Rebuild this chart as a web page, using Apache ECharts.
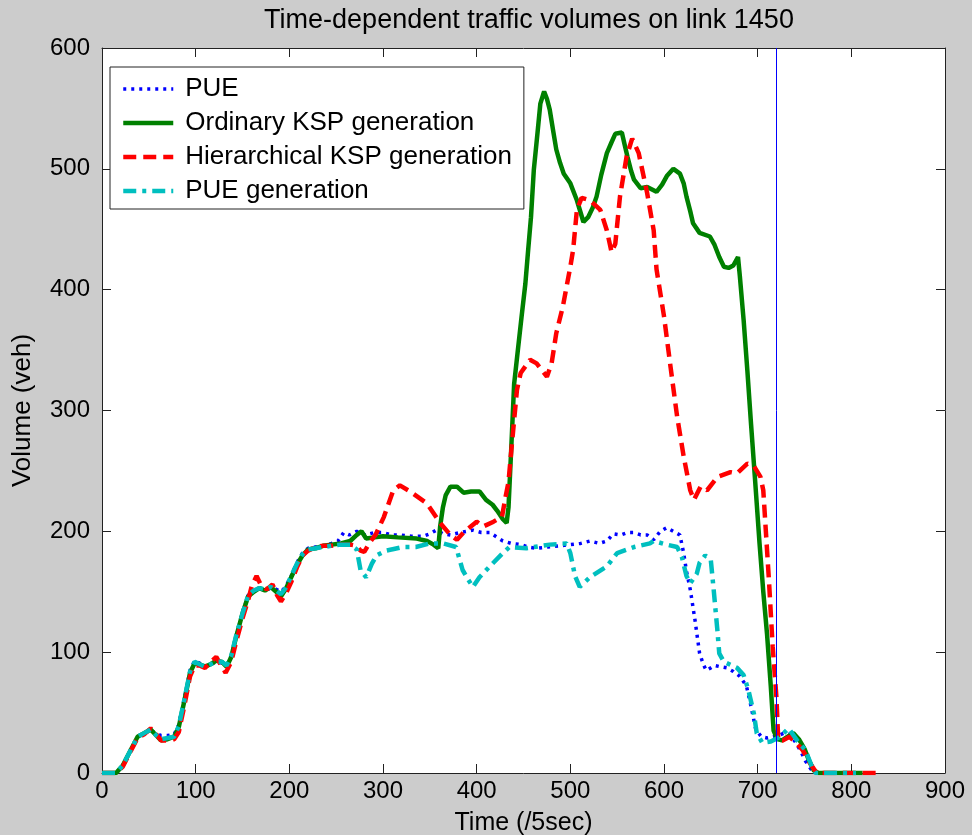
<!DOCTYPE html>
<html>
<head>
<meta charset="utf-8">
<script src="https://cdn.jsdelivr.net/npm/echarts@6/dist/echarts.min.js"></script>
<style>
html,body{margin:0;padding:0;background:#cccccc;}
#chart{width:972px;height:835px;}
</style>
</head>
<body>
<div id="chart"></div>
<script>
const titleText = 'Time-dependent traffic volumes on link 1450';
const xName = 'Time (/5sec)';
const yName = 'Volume (veh)';
const seriesNames = ['PUE', 'Ordinary KSP generation', 'Hierarchical KSP generation', 'PUE generation'];
const xTicks = [0, 100, 200, 300, 400, 500, 600, 700, 800, 900];
const yTicks = [0, 100, 200, 300, 400, 500, 600];
const markerX = 720;

const pue = [[0,0],[15,0],[22,6],[30,18],[38,30],[45,33],[52,35],[58,33],[63,31],[70,31],[77,32],[82,40],[88,62],[94,85],[99,93],[104,91],[110,88],[116,90],[122,92],[128,91],[133,89],[138,97],[143,113],[150,133],[156,147],[162,151],[168,153],[174,151],[180,153],[186,152],[191,150],[196,154],[202,163],[208,174],[214,182],[220,186],[228,187],[236,188],[245,190],[252,192],[258,199],[264,197],[272,200],[281,197],[291,199],[300,199],[310,197],[318,197],[330,196],[343,196],[350,198],[357,201],[364,198],[372,197],[382,199],[396,201],[405,199],[414,199],[422,195],[428,192],[437,190],[447,189],[455,187],[464,186],[476,187],[488,188],[500,189],[511,190],[521,192],[531,190],[539,192],[546,198],[554,197],[561,199],[568,199],[575,197],[582,197],[589,193],[596,200],[603,203],[610,200],[617,197],[621,182],[624,167],[628,152],[633,127],[638,99],[642,90],[645,85],[650,87],[654,89],[660,88],[667,87],[674,84],[681,80],[688,72],[693,55],[698,36],[704,30],[710,29],[716,30],[722,31],[728,33],[734,32],[740,26],[746,18],[751,10],[757,3],[762,0],[805,0]];

const ordinaryKsp = [[0,0],[15,0],[22,6],[30,18],[38,30],[45,33],[52,36],[58,31],[63,27],[70,28],[77,30],[82,38],[88,60],[94,83],[99,91],[104,90],[110,88],[116,90],[122,93],[128,92],[133,88],[138,96],[143,112],[150,132],[156,146],[162,150],[168,153],[174,151],[180,154],[186,150],[191,146],[196,152],[202,162],[208,172],[214,180],[220,185],[228,186],[236,188],[245,189],[255,190],[265,192],[272,197],[277,200],[282,194],[291,195],[300,196],[316,195],[336,194],[347,192],[354,189],[359,186],[361,204],[364,220],[367,230],[372,237],[379,237],[386,232],[394,233],[403,233],[410,226],[417,222],[422,217],[428,210],[432,207],[434,220],[437,270],[440,322],[444,350],[448,378],[452,405],[455,433],[458,460],[461,499],[465,530],[468,554],[472,564],[475,558],[478,549],[482,530],[485,516],[489,505],[493,496],[500,488],[507,474],[514,456],[519,460],[524,468],[528,477],[533,495],[539,513],[544,522],[548,529],[555,530],[558,520],[561,510],[565,498],[568,491],[575,484],[582,485],[592,481],[598,487],[603,494],[610,500],[617,496],[621,488],[624,477],[628,465],[631,455],[638,447],[649,444],[654,437],[659,427],[664,419],[669,418],[674,420],[679,427],[681,411],[685,375],[689,333],[693,288],[697,245],[702,190],[706,150],[710,115],[714,72],[717,35],[721,28],[726,27],[732,30],[738,33],[744,28],[750,20],[755,10],[760,2],[765,0],[812,0]];

const hierKsp = [[0,0],[15,0],[22,5],[30,17],[38,29],[45,32],[52,37],[58,32],[63,27],[70,27],[77,28],[82,34],[88,56],[94,80],[99,89],[104,89],[110,87],[116,92],[122,96],[128,88],[132,83],[138,92],[143,108],[150,128],[156,143],[160,155],[165,163],[170,155],[176,152],[182,156],[187,147],[191,142],[196,148],[202,158],[208,170],[214,180],[220,184],[228,187],[236,188],[245,188],[255,189],[265,189],[272,188],[276,184],[280,183],[286,191],[292,197],[301,212],[311,234],[318,238],[329,233],[347,223],[361,207],[372,197],[379,193],[386,199],[400,208],[407,204],[418,208],[427,212],[431,229],[434,241],[437,267],[443,317],[447,331],[457,342],[464,339],[475,328],[480,339],[485,364],[492,386],[500,419],[503,433],[507,466],[512,476],[521,474],[532,466],[539,449],[544,431],[548,438],[553,477],[560,510],[566,525],[573,513],[582,480],[589,449],[592,417],[600,378],[607,336],[614,295],[621,262],[628,234],[632,226],[639,237],[646,234],[657,245],[671,249],[678,248],[689,256],[696,254],[703,245],[706,234],[712,160],[716,105],[720,63],[722,27],[727,27],[734,30],[741,25],[748,19],[756,8],[763,0],[826,0]];

const pueGen = [[0,0],[15,0],[22,6],[30,18],[38,30],[45,33],[52,36],[58,31],[63,28],[70,29],[77,30],[82,39],[88,61],[94,84],[99,92],[104,90],[110,88],[116,90],[122,92],[128,92],[133,89],[138,97],[143,113],[150,132],[156,147],[162,151],[168,153],[174,152],[180,154],[186,151],[191,148],[196,153],[202,163],[208,173],[214,181],[220,185],[228,186],[236,187],[245,188],[255,189],[265,189],[272,185],[276,168],[282,162],[288,173],[293,180],[303,184],[321,187],[335,187],[350,190],[364,190],[378,187],[385,168],[391,160],[396,154],[403,162],[414,171],[428,182],[435,187],[453,186],[478,189],[496,190],[500,182],[505,163],[510,154],[521,162],[539,171],[550,182],[568,187],[585,190],[589,192],[603,189],[614,187],[619,179],[624,163],[628,157],[635,165],[638,174],[644,180],[650,176],[653,152],[657,118],[659,99],[664,92],[678,87],[685,81],[690,69],[696,49],[699,33],[705,25],[714,26],[724,30],[733,37],[742,27],[751,19],[758,5],[762,0],[805,0]];

const FONT = 'Liberation Sans, Arial, sans-serif';
const chart = echarts.init(document.getElementById('chart'));

function axisCommon(extra) {
  return Object.assign({
    type: 'value',
    axisLine: { show: true, onZero: false, lineStyle: { color: '#222', width: 1 } },
    axisTick: { show: true, inside: true, length: 9, lineStyle: { color: '#222', width: 1 } },
    splitLine: { show: false }
  }, extra);
}

chart.setOption({
  backgroundColor: '#cccccc',
  animation: false,
  title: {
    text: titleText,
    left: 524, top: 2, textAlign: 'center',
    textStyle: { fontFamily: FONT, fontSize: 27, fontWeight: 'normal', color: '#000' }
  },
  grid: {
    left: 102, right: 27, top: 48, bottom: 62, show: true, backgroundColor: '#ffffff', borderWidth: 0,
    containLabel: false, outerBoundsMode: 'none'
  },
  legend: {
    orient: 'vertical', left: 110, top: 67,
    data: seriesNames,
    backgroundColor: '#ffffff', borderColor: '#222', borderWidth: 1,
    padding: [9, 12, 5, 11], itemGap: 8,
    itemWidth: 50, itemHeight: 26,
    itemStyle: { opacity: 0 },
    lineStyle: { width: 'inherit' },
    textStyle: { fontFamily: FONT, fontSize: 26, color: '#000', padding: [0, 0, 0, 7] }
  },
  xAxis: [
    axisCommon({
      min: xTicks[0], max: xTicks[xTicks.length - 1], interval: 100, position: 'bottom',
      name: xName, nameLocation: 'middle', nameGap: 38,
      nameTextStyle: { fontFamily: FONT, fontSize: 25, color: '#000' },
      axisLabel: { fontFamily: FONT, fontSize: 24, color: '#000', margin: 6 }
    }),
    axisCommon({
      min: xTicks[0], max: xTicks[xTicks.length - 1], interval: 100, position: 'top',
      axisLabel: { show: false }
    })
  ],
  yAxis: [
    axisCommon({
      min: yTicks[0], max: yTicks[yTicks.length - 1], interval: 100, position: 'left',
      name: yName, nameLocation: 'middle', nameGap: 66, nameRotate: 90,
      nameTextStyle: { fontFamily: FONT, fontSize: 26, color: '#000' },
      axisLabel: { fontFamily: FONT, fontSize: 24, color: '#000', margin: 12 }
    }),
    axisCommon({
      min: yTicks[0], max: yTicks[yTicks.length - 1], interval: 100, position: 'right',
      axisLabel: { show: false }
    })
  ],
  series: [
    {
      name: seriesNames[0], type: 'line', data: pue, symbol: 'none', xAxisIndex: 0, yAxisIndex: 0,
      lineStyle: { color: '#0000ff', width: 3.5, type: [3, 5] }, itemStyle: { color: '#0000ff' },
      markLine: {
        silent: true, symbol: 'none', label: { show: false },
        lineStyle: { color: '#0000ff', width: 1, type: 'solid' },
        data: [{ xAxis: markerX }]
      }
    },
    {
      name: seriesNames[1], type: 'line', data: ordinaryKsp, symbol: 'none',
      lineStyle: { color: '#008000', width: 4.5, type: 'solid' }, itemStyle: { color: '#008000' }
    },
    {
      name: seriesNames[2], type: 'line', data: hierKsp, symbol: 'none',
      lineStyle: { color: '#ff0000', width: 4.5, type: [13, 7] }, itemStyle: { color: '#ff0000' }
    },
    {
      name: seriesNames[3], type: 'line', data: pueGen, symbol: 'none',
      lineStyle: { color: '#00bfbf', width: 4.5, type: [13, 6, 4, 6] }, itemStyle: { color: '#00bfbf' }
    }
  ]
});
</script>
</body>
</html>
